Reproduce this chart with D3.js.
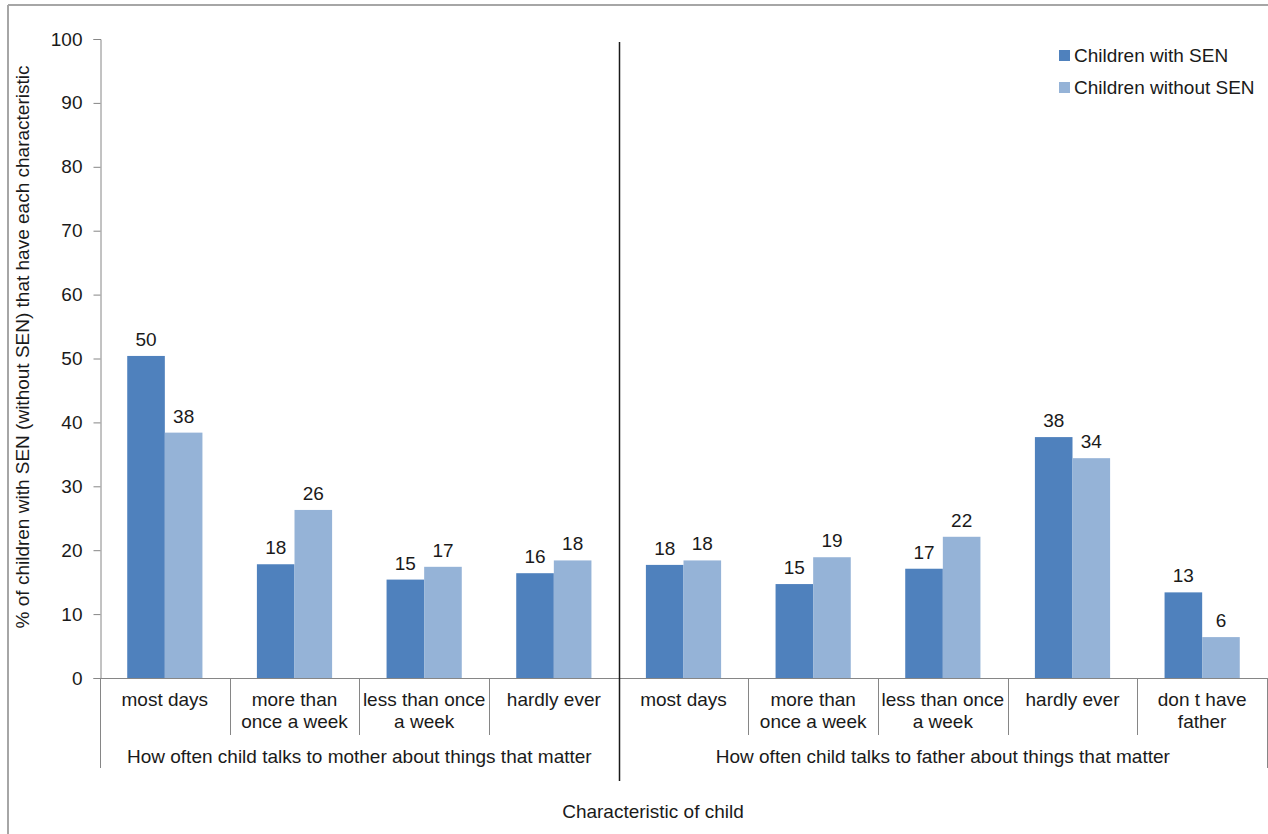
<!DOCTYPE html>
<html>
<head>
<meta charset="utf-8">
<script src="https://cdn.jsdelivr.net/npm/d3@7"></script>
<style>
  html, body { margin: 0; padding: 0; background: #fff; }
  svg { display: block; }
  text { font-family: "Liberation Sans", Arial, sans-serif; fill: #1a1a1a; }
</style>
</head>
<body>
<svg id="chart" width="1268" height="834"></svg>
<script>
// Category labels (line breaks as "\n")
const categories = [
  "most days", "more than\nonce a week", "less than once\na week", "hardly ever",
  "most days", "more than\nonce a week", "less than once\na week", "hardly ever", "don t have\nfather"
];
// Outer grouping of the categories
const groupLabels = [
  "How often child talks to mother about things that matter",
  "How often child talks to father about things that matter"
];
const groupSizes = [4, 5];

const seriesNames = ["Children with SEN", "Children without SEN"];
const withSEN    = [50.4, 17.8, 15.4, 16.4, 17.7, 14.7, 17.1, 37.7, 13.4];
const withoutSEN = [38.4, 26.3, 17.4, 18.4, 18.4, 18.9, 22.1, 34.4, 6.4];
const yTicks = [0, 10, 20, 30, 40, 50, 60, 70, 80, 90, 100];

(function draw() {
  const colors = ["#4F81BD", "#95B3D7"];
  const axisColor = "#868686";
  const fontSize = 19;

  const svg = d3.select("#chart");
  const W = 1268, H = 834;
  const plotLeft = 100, plotRight = 1267, plotTop = 39, plotBottom = 678;

  // Outer frame (top and left edges)
  svg.append("line").attr("x1", 8).attr("x2", W).attr("y1", 5).attr("y2", 5)
    .attr("stroke", "#a6a6a6").attr("stroke-width", 2);
  svg.append("line").attr("x1", 8).attr("x2", 8).attr("y1", 5).attr("y2", H)
    .attr("stroke", "#a6a6a6").attr("stroke-width", 2);

  const y = d3.scaleLinear().domain([0, 100]).range([plotBottom, plotTop]);
  const x0 = d3.scaleBand().domain(d3.range(categories.length)).range([plotLeft, plotRight]).padding(0);
  const bw = x0.bandwidth();
  const x1 = d3.scaleBand().domain([0, 1]).range([bw * 0.21, bw * 0.79]).padding(0);

  // Y axis
  const yAxis = svg.append("g")
    .attr("transform", `translate(${plotLeft + 0.5},0)`)
    .call(d3.axisLeft(y).tickValues(yTicks).tickSize(7).tickPadding(11));
  yAxis.select(".domain").attr("stroke", axisColor);
  yAxis.selectAll(".tick line").attr("stroke", axisColor);
  yAxis.selectAll(".tick text")
    .style("font-family", '"Liberation Sans", Arial, sans-serif')
    .style("font-size", fontSize + "px").attr("fill", "#1a1a1a");

  // Y axis title
  svg.append("text")
    .attr("transform", "translate(29, 347) rotate(-90)")
    .attr("text-anchor", "middle")
    .style("font-size", fontSize + "px")
    .text("% of children with SEN (without SEN) that have each characteristic");

  // Bars with value labels
  const series = [withSEN, withoutSEN];
  series.forEach((vals, si) => {
    const g = svg.append("g");
    g.selectAll("rect").data(vals).join("rect")
      .attr("x", (d, i) => x0(i) + x1(si))
      .attr("width", x1.bandwidth())
      .attr("y", d => y(d))
      .attr("height", d => y(0) - y(d))
      .attr("fill", colors[si]);
    g.selectAll("text").data(vals).join("text")
      .attr("x", (d, i) => x0(i) + x1(si) + x1.bandwidth() / 2)
      .attr("y", d => y(d) - 10)
      .attr("text-anchor", "middle")
      .style("font-size", fontSize + "px")
      .text(d => d3.format(".0f")(d));
  });

  // X axis baseline
  svg.append("line").attr("x1", plotLeft).attr("x2", plotRight)
    .attr("y1", plotBottom + 0.5).attr("y2", plotBottom + 0.5)
    .attr("stroke", axisColor);

  // Category separators: short ones between categories, long ones at group edges
  const groupEdges = new Set([0]);
  let acc = 0;
  groupSizes.forEach(s => { acc += s; groupEdges.add(acc); });
  d3.range(categories.length + 1).forEach(i => {
    const xx = Math.round(i < categories.length ? x0(i) : plotRight) + 0.5;
    svg.append("line").attr("x1", xx).attr("x2", xx)
      .attr("y1", plotBottom).attr("y2", groupEdges.has(i) ? 768 : 735)
      .attr("stroke", axisColor);
  });

  // Category labels
  categories.forEach((c, i) => {
    const t = svg.append("text")
      .attr("text-anchor", "middle")
      .style("font-size", fontSize + "px");
    c.split("\n").forEach((ln, k) => {
      t.append("tspan").attr("x", x0(i) + bw / 2).attr("y", 706 + k * 22).text(ln);
    });
  });

  // Group labels
  let start = 0;
  groupLabels.forEach((g, gi) => {
    const end = start + groupSizes[gi];
    const xs = x0(start), xe = end < categories.length ? x0(end) : plotRight;
    svg.append("text")
      .attr("x", (xs + xe) / 2).attr("y", 763)
      .attr("text-anchor", "middle")
      .style("font-size", fontSize + "px")
      .text(g);
    start = end;
  });

  // Divider between mother and father groups
  const divX = Math.round(x0(groupSizes[0])) + 0.5;
  svg.append("line").attr("x1", divX).attr("x2", divX)
    .attr("y1", 42).attr("y2", 781)
    .attr("stroke", "#1a1a1a").attr("stroke-width", 1.5);

  // X axis title
  svg.append("text")
    .attr("x", 653).attr("y", 818)
    .attr("text-anchor", "middle")
    .style("font-size", fontSize + "px")
    .text("Characteristic of child");

  // Legend
  const legend = svg.append("g");
  seriesNames.forEach((name, i) => {
    const yy = 50 + i * 32;
    legend.append("rect").attr("x", 1059).attr("y", yy).attr("width", 11).attr("height", 11)
      .attr("fill", colors[i]);
    legend.append("text").attr("x", 1074).attr("y", yy + 12)
      .style("font-size", fontSize + "px").text(name);
  });
})();
</script>
</body>
</html>
